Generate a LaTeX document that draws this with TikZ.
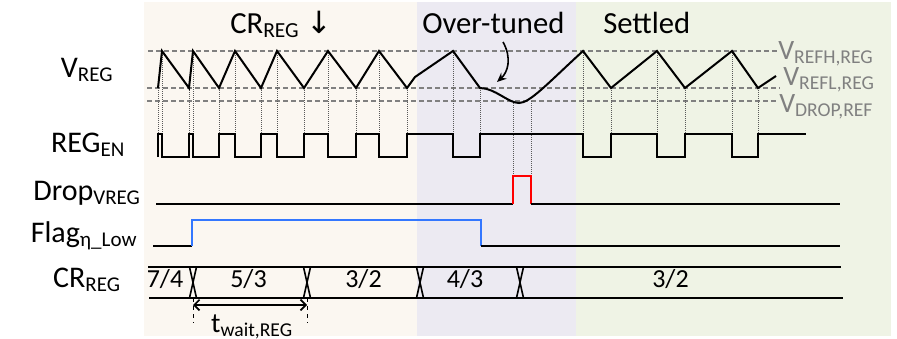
\documentclass[tikz,border=0pt]{standalone}
\usepackage{fontspec}
\setmainfont{Carlito}
\newfontfamily\arrowfont{DejaVu Sans}
\usepackage{xcolor}
\usepackage{tikz}
\usetikzlibrary{positioning,arrows.meta,calc}
\definecolor{creambg}{RGB}{251,247,241}
\definecolor{lavenderbg}{RGB}{236,234,242}
\definecolor{greenbg}{RGB}{239,243,229}
\definecolor{refgray}{RGB}{128,128,128}
\definecolor{flagblue}{RGB}{51,119,255}
\definecolor{dropred}{RGB}{255,0,0}
\tikzset{
  signal-label/.style={font=\fontsize{22.5}{27}\selectfont, anchor=base, inner sep=0pt},
  time-label/.style={font=\fontsize{21}{25}\selectfont, anchor=base, inner sep=0pt},
  phase-title/.style={font=\fontsize{23}{27}\selectfont, anchor=base west, inner sep=0pt},
  ref-label/.style={font=\fontsize{21}{25}\selectfont, text=refgray, anchor=base west, inner sep=0pt},
  bus-value/.style={font=\fontsize{19.5}{23}\selectfont, anchor=base, inner sep=0pt},
  wave-line/.style={line width=1.5pt, line join=miter},
  ref-line/.style={draw=refgray, line width=1.5pt, dash pattern=on 3.75pt off 2.25pt},
  guide-line/.style={draw=black!65, line width=0.5pt, densely dotted},
  bus-line/.style={line width=1.2pt},
  span-arrow/.style={{Straight Barb[length=4pt]}-{Straight Barb[length=4pt]}, line width=1.2pt},
  tick-line/.style={dashed, line width=0.6pt},
  dip-arrow/.style={-{Stealth[length=7pt,width=6pt]}, line width=1.2pt}
}

\begin{document}
\begin{tikzpicture}[x=0.75pt, y=-0.75pt]
\useasboundingbox (0,0) rectangle (897,339);
% three phases behind the waveforms
\fill[creambg]    (144,2) rectangle (417,336);
\fill[lavenderbg] (417,2) rectangle (576,336);
\fill[greenbg]    (576,2) rectangle (891,336);
% reference levels
\draw[ref-line] (148,51)  -- (777,51);
\draw[ref-line] (147,88)  -- (780,88);
\draw[ref-line] (147,101) -- (777,101);
% dotted guides from each V_REG corner down to REG_EN
\foreach \x/\y in {158/88,162/51,189/88,193/51,219/88,235/51,261/88,277/51,304/88,328/51,
                   356/88,379/51,407/88,453/51,480/88,583/51,611/88,657/51,685/88,732/51,758/88}
  \draw[guide-line] (\x,\y) -- (\x,134);
\draw[guide-line] (513,101) -- (513,176);
\draw[guide-line] (531,101) -- (531,176);
% V_REG ripple, with the dip below V_DROP when over-tuned
\draw[wave-line] (158,88) -- (162,51) -- (189,88) -- (193,51) -- (219,88) -- (235,51) -- (261,88)
  -- (277,51) -- (304,88) -- (328,51) -- (356,88) -- (379,51) -- (407,88) -- (415,77) -- (453,51)
  -- (480,88) .. controls (495,88) and (508,103) .. (519,103) .. controls (530,103) and (548,83) .. (583,51)
  -- (611,88) -- (657,51) -- (685,88) -- (732,51) -- (758,88) -- (776,76);
% REG_EN
\draw[wave-line] (158,157) -- (158,134) -- (162,134) -- (162,157) -- (189,157) -- (189,134) -- (193,134)
  -- (193,157) -- (219,157) -- (219,134) -- (235,134) -- (235,157) -- (261,157) -- (261,134) -- (277,134)
  -- (277,157) -- (304,157) -- (304,134) -- (328,134) -- (328,157) -- (356,157) -- (356,134) -- (379,134)
  -- (379,157) -- (407,157) -- (407,134) -- (453,134) -- (453,157) -- (480,157) -- (480,134) -- (583,134)
  -- (583,157) -- (611,157) -- (611,134) -- (657,134) -- (657,157) -- (685,157) -- (685,134) -- (732,134)
  -- (732,157) -- (758,157) -- (758,134) -- (806,134);
% Drop_VREG
\draw[wave-line] (156,204) -- (513,204);
\draw[wave-line, dropred] (513,204) -- (513,176) -- (531,176) -- (531,204);
\draw[wave-line] (531,204) -- (840,204);
% Flag
\draw[wave-line] (153,246) -- (192,246);
\draw[wave-line, flagblue] (192,246) -- (192,220) -- (481,220) -- (481,246);
\draw[wave-line] (481,246) -- (840,246);
% CR_REG bus
\draw[bus-line] (148,267) -- (841,267);
\draw[bus-line] (149,298) -- (843,298);
\foreach \x in {193,307,420,520}
  \draw[bus-line] (\x-3.5,267) -- (\x+3.5,298) (\x+3.5,267) -- (\x-3.5,298);
\node[bus-value] (cr1) at (165,287.5) {7/4};
\node[bus-value] (cr2) at (248.5,287.5) {5/3};
\node[bus-value] (cr3) at (363.5,287.5) {3/2};
\node[bus-value] (cr4) at (465,287.5) {4/3};
\node[bus-value] (cr5) at (670.5,287.5) {3/2};
% wait time
\coordinate (waitl) at (193,305);
\coordinate (waitr) at (307,305);
\draw[tick-line] (193,298) -- (193,323);
\draw[tick-line] (307,298) -- (307,323);
\draw[span-arrow] (waitl) -- (waitr);
\node[time-label] (twait) at (252,332) {t\textsubscript{wait,REG}};
% signal names
\node[signal-label] (vreg)  at (87,77)  {V\textsubscript{REG}};
\node[signal-label] (regen) at (88,152) {REG\textsubscript{EN}};
\node[signal-label] (dropv) at (87,200) {Drop\textsubscript{VREG}};
\node[signal-label] (flag)  at (84,242) {Flag\textsubscript{η\_Low}};
\node[signal-label] (crreg) at (87,287) {CR\textsubscript{REG}};
% reference level names
\node[ref-label] (refh)    at (778,59)  {V\textsubscript{REFH,REG}};
\node[ref-label] (refl)    at (783,85)  {V\textsubscript{REFL,REG}};
\node[ref-label] (dropref) at (779,112) {V\textsubscript{DROP,REF}};
% phase titles
\node[phase-title] (crdown)    at (230,33) {CR\textsubscript{REG} {\arrowfont ↓}};
\node[phase-title] (overtuned) at (422,33) {Over-tuned};
\node[phase-title] (settled)   at (603,33) {Settled};
\coordinate (dipstart) at (503,42);
\coordinate (diptip)   at (497,82);
\draw[dip-arrow] (dipstart) .. controls (512,58) and (508,72) .. (diptip);
\end{tikzpicture}
\end{document}
